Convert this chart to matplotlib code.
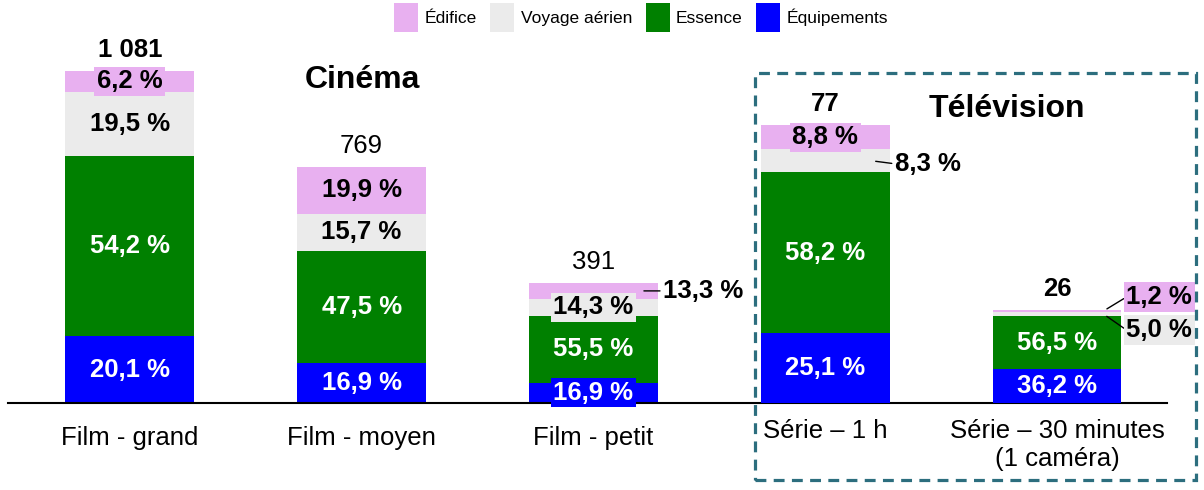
import matplotlib
matplotlib.use("Agg")
import matplotlib.pyplot as plt
from matplotlib import font_manager as fm
from matplotlib.patches import Rectangle, Patch
import numpy as np

# ---- data -------------------------------------------------------------
categories = ["Film - grand", "Film - moyen", "Film - petit",
              "Série – 1 h", "Série – 30 minutes\n(1 caméra)"]
totals = [1081, 769, 391, 77, 26]
total_labels = ["1 081", "769", "391", "77", "26"]
total_bold = [True, False, False, True, True]

equipements = [20.1, 16.9, 16.9, 25.1, 36.2]
essence = [54.2, 47.5, 55.5, 58.2, 56.5]
voyage_aerien = [19.5, 15.7, 14.3, 8.3, 5.0]
edifice = [6.2, 19.9, 13.3, 8.8, 1.2]

series_names = ["Équipements", "Essence", "Voyage aérien", "Édifice"]
series_values = [equipements, essence, voyage_aerien, edifice]
series_colors = ["#0000FF", "#008000", "#EBEBEB", "#E8B0F0"]
series_text = ["white", "white", "black", "black"]

group_titles = ["Cinéma", "Télévision"]

# ---- fonts ------------------------------------------------------------
available = {f.name for f in fm.fontManager.ttflist}
MAIN = "Liberation Sans"
if "Liberation Sans Narrow" in available:
    LEG_FONT, LEG_SIZE = "Liberation Sans Narrow", 15
else:
    LEG_FONT, LEG_SIZE = "Liberation Sans", 12.5
plt.rcParams["font.family"] = [MAIN, "DejaVu Sans"]

# ---- layout -----------------------------------------------------------
W, H, DPI = 1204, 490, 100
PX = 72 / DPI            # points per pixel
fig = plt.figure(figsize=(W / DPI, H / DPI), dpi=DPI)

base_px = 403            # baseline, pixels from top
step_px = 231.8          # distance between bar centres
first_px = 129.8         # centre of first bar
ax = fig.add_axes([0, (H - base_px) / H, 1, base_px / H])
ax2 = ax.twinx()
for a in (ax, ax2):
    a.set_xlim(-first_px / step_px, (W - first_px) / step_px)
    a.axis("off")
# cinema and television use their own vertical scales
ax.set_ylim(0, base_px / (332 / 1081))
ax2.set_ylim(0, base_px / (277 / 77))

x = np.arange(len(categories))
bar_w = 0.555
axes_for = [ax, ax, ax, ax2, ax2]

# label placement for segments too thin to hold their own text:
# (bar, series) -> offset of the text from the leader start, in pixels
outside = {
    (2, 3): (23, 0),
    (3, 2): (23, -3),
    (4, 3): (23, 14),
    (4, 2): (23, -16),
}
outside_box = {(4, 3), (4, 2)}

def fmt(v):
    return f"{v:.1f} %".replace(".", ",")

LBL = 18.5
for i in range(len(categories)):
    a = axes_for[i]
    bottom = 0.0
    for s in range(len(series_names)):
        pct = series_values[s][i]
        h = totals[i] * pct / 100
        a.bar(x[i], h, bar_w, bottom=bottom, color=series_colors[s],
              edgecolor="none", zorder=2)
        yc = bottom + h / 2
        if (i, s) in outside:
            dx, dy = outside[(i, s)]
            bbox = None
            if (i, s) in outside_box:
                bbox = dict(boxstyle="square,pad=0.1", fc=series_colors[s], ec="none")
            a.annotate(fmt(pct), xy=(x[i] + 0.2, yc), xytext=(dx * PX, dy * PX),
                       textcoords="offset points", ha="left", va="center",
                       fontsize=LBL, fontweight="bold", color="black", bbox=bbox,
                       zorder=6, annotation_clip=False,
                       arrowprops=dict(arrowstyle="-", lw=1.0, color="black",
                                       shrinkA=0, shrinkB=3, relpos=(0, 0.5)))
        else:
            a.annotate(fmt(pct), xy=(x[i], yc), ha="center", va="center",
                       fontsize=LBL, fontweight="bold", color=series_text[s],
                       bbox=dict(boxstyle="square,pad=0.1", fc=series_colors[s], ec="none"),
                       zorder=5, annotation_clip=False)
        bottom += h
    # total above the bar
    a.annotate(total_labels[i], xy=(x[i], bottom), xytext=(0, 21 * PX),
               textcoords="offset points", ha="center", va="center",
               fontsize=LBL, fontweight="bold" if total_bold[i] else "normal",
               annotation_clip=False)
    # category name under the baseline
    drop = 23 if i < 3 else 16
    a.annotate(categories[i], xy=(x[i], 0), xytext=(0, -drop * PX),
               textcoords="offset points", ha="center", va="top",
               fontsize=18.5, linespacing=1.2, annotation_clip=False)

# baseline
ax.axhline(0, xmin=8 / W, xmax=1167 / W, color="black", lw=1.5, zorder=3,
           clip_on=False)

# group titles
fig.text(362 / W, 1 - 80 / H, group_titles[0], ha="center", va="center",
         fontsize=23, fontweight="bold")
fig.text(1007 / W, 1 - 109 / H, group_titles[1], ha="center", va="center",
         fontsize=23, fontweight="bold")

# dashed frame around the television group
frame = Rectangle((755 / W, 10 / H), (1196 - 755) / W, (480 - 73) / H,
                  transform=fig.transFigure, fill=False, ec="#2C6E7E",
                  lw=2.3, linestyle=(0, (3.4, 2.3)), zorder=1)
fig.patches.append(frame)

# legend (reverse stacking order)
handles = [Patch(facecolor=series_colors[s], edgecolor="none")
           for s in reversed(range(len(series_names)))]
labels = [series_names[s] for s in reversed(range(len(series_names)))]
fig.legend(handles, labels, loc="upper right", bbox_to_anchor=(888 / W, 1 - 3 / H),
           ncol=4, frameon=False, borderpad=0, borderaxespad=0,
           prop=dict(family=LEG_FONT, size=LEG_SIZE),
           handlelength=1.38, handleheight=2.2, handletextpad=0.35,
           columnspacing=0.8)

fig.savefig("out.png", dpi=DPI)
